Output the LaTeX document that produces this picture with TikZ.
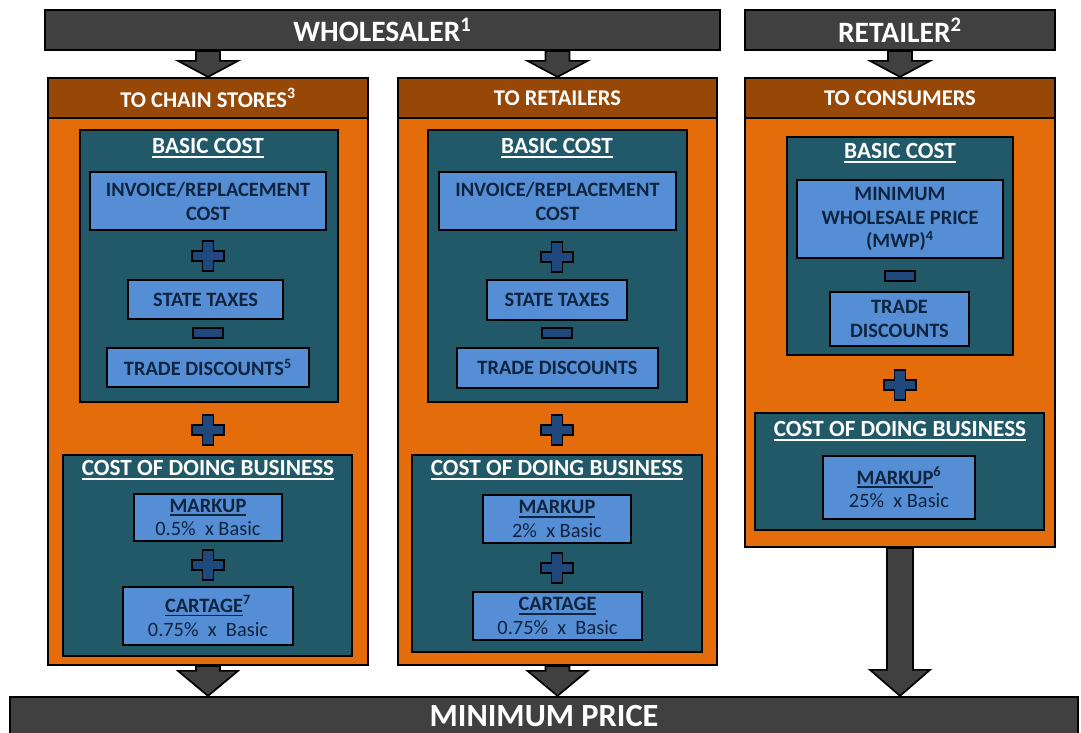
\documentclass[tikz,border=0pt]{standalone}
\usepackage{fontspec}
\setmainfont{Carlito}
\usetikzlibrary{calc}
\definecolor{barGray}{HTML}{404040}
\definecolor{hdrBrown}{HTML}{974806}
\definecolor{bodyOrange}{HTML}{E46C0A}
\definecolor{costTeal}{HTML}{215968}
\definecolor{itemBlue}{HTML}{558ED5}
\definecolor{itemText}{HTML}{0F243E}
\definecolor{signBlue}{HTML}{1F497D}

% thick underline for the titles
\newcommand{\ulin}[1]{\vtop{\hbox{#1}\kern1.6pt\hrule height 1.1pt}}

% block arrow: source, tip, shaft half width, head length
\newcommand{\blockarrow}[4]{%
  \filldraw[blockarr]
    ($(#2 |- #1)+(-#3,0)$) -- ($(#2)+(-#3,-#4)$) -- ($(#2)+(-30,-#4)$) -- (#2)
    -- ($(#2)+(30,-#4)$) -- ($(#2)+(#3,-#4)$) -- ($(#2 |- #1)+(#3,0)$) -- cycle;
}

\tikzset{
  sz/.style 2 args={minimum width=#1*0.025cm, minimum height=#2*0.025cm},
  bar/.style={draw=black, fill=barGray, line width=1.6pt, inner sep=0pt,
    text=white, font=\fontsize{21}{24}\selectfont\bfseries},
  hdr/.style={draw=black, fill=hdrBrown, line width=1.6pt, inner sep=0pt,
    text=white, font=\fontsize{16}{19}\selectfont\bfseries},
  body/.style={draw=black, fill=bodyOrange, line width=1.6pt, inner sep=0pt},
  grp/.style={draw=black, fill=costTeal, line width=1.6pt, inner sep=0pt},
  item/.style={draw=black, fill=itemBlue, line width=1.6pt, inner sep=0pt,
    text=itemText, align=center, font=\fontsize{14.5}{17}\selectfont\bfseries},
  ttl/.style={inner sep=0pt, text=white, font=\fontsize{16.5}{19}\selectfont\bfseries},
  blockarr/.style={fill=barGray, draw=black, line width=1.2pt, line join=miter},
  sign/.style={fill=signBlue, draw=black, line width=1.2pt},
}

\begin{document}
\begin{tikzpicture}[x=0.025cm, y=-0.025cm]

  \useasboundingbox (0,0) rectangle (1081,732);
  \fill[white] (0,0) rectangle (1081,732);

  % Top bars
  \node[bar, sz={675}{40}] (wsbar) at (382.5,30) {WHOLESALER\textsuperscript{1}};
  \node[bar, sz={310}{40}] (rtbar) at (900,30) {RETAILER\textsuperscript{2}};

  % Bottom bar
  \node[bar, sz={1068}{38}, font=\fontsize{23}{26}\selectfont\bfseries] (mp) at (544,716) {MINIMUM PRICE};
  \fill[barGray] ([xshift=0.8pt]mp.south west) rectangle ([xshift=-0.8pt,yshift=-20pt]mp.south east);
  \draw[line width=1.6pt] (mp.south west) -- ++(0,-20pt) (mp.south east) -- ++(0,-20pt);

  % Column bodies
  \node[body, sz={320}{547}] (body1) at (208,391.5) {};
  \node[body, sz={319}{547}] (body2) at (557.5,391.5) {};
  \node[body, sz={310}{429}] (body3) at (900,332.5) {};

  % Column headers
  \node[hdr, sz={320}{40}] (h1) at (208,98) {TO CHAIN STORES\textsuperscript{3}};
  \node[hdr, sz={319}{40}] (h2) at (557.5,98) {TO RETAILERS};
  \node[hdr, sz={310}{40}] (h3) at (900,98) {TO CONSUMERS};

  % Basic cost groups
  \node[grp, sz={258}{272}] (bc1) at (209,266) {};
  \node[grp, sz={259}{272}] (bc2) at (557.5,266) {};
  \node[grp, sz={226}{218}] (bc3) at (900,246) {};
  \node[ttl] (bct1) at (208,148) {\ulin{BASIC COST}};
  \node[ttl] (bct2) at (557,148) {\ulin{BASIC COST}};
  \node[ttl] (bct3) at (900,153) {\ulin{BASIC COST}};

  \node[item, sz={236}{58}] (inv1) at (208,201) {INVOICE/REPLACEMENT\\COST};
  \node[item, sz={237}{58}] (inv2) at (557.5,201) {INVOICE/REPLACEMENT\\COST};
  \node[item, sz={206}{78}] (mwp3) at (900,219) {MINIMUM\\WHOLESALE PRICE\\(MWP)\textsuperscript{4}};
  \node[item, sz={155}{39}] (st1) at (205.5,299.5) {STATE TAXES};
  \node[item, sz={140}{40}] (st2) at (557,300) {STATE TAXES};
  \node[item, sz={202}{39}] (td1) at (208,367.5) {TRADE DISCOUNTS\textsuperscript{5}};
  \node[item, sz={201}{40}] (td2) at (557.5,368) {TRADE DISCOUNTS};
  \node[item, sz={139}{54}] (td3) at (899.5,319) {TRADE\\DISCOUNTS};

  % Cost of doing business groups
  \node[grp, sz={289}{201}] (cdb1) at (207.5,555.5) {};
  \node[grp, sz={290}{197}] (cdb2) at (557,553.5) {};
  \node[grp, sz={289}{117}] (cdb3) at (899.5,471.5) {};
  \node[ttl] (cdbt1) at (208,470) {\ulin{COST OF DOING BUSINESS}};
  \node[ttl] (cdbt2) at (557,470) {\ulin{COST OF DOING BUSINESS}};
  \node[ttl] (cdbt3) at (900,431) {\ulin{COST OF DOING BUSINESS}};

  \node[item, sz={148}{47}] (mk1) at (208,517.5) {\ulin{MARKUP}\\{\mdseries 0.5\%~ x Basic}};
  \node[item, sz={148}{48}] (mk2) at (557,519) {\ulin{MARKUP}\\{\mdseries 2\%~ x Basic}};
  \node[item, sz={152}{63}] (mk3) at (899,487.5) {\ulin{MARKUP}\textsuperscript{6}\\{\mdseries 25\%~ x Basic}};
  \node[item, sz={170}{58}] (ct1) at (208,616) {\ulin{CARTAGE}\textsuperscript{7}\\{\mdseries 0.75\%~ x~ Basic}};
  \node[item, sz={169}{48}] (ct2) at (557.5,616) {\ulin{CARTAGE}\\{\mdseries 0.75\%~ x~ Basic}};

  % Plus and minus signs
  \foreach \px/\py in {208/256, 208/430, 208/565, 557/257, 557/430, 557/568, 900/385} {
    \draw[sign, shift={(\px,\py)}] (-5.5,-15) -- (5.5,-15) -- (5.5,-5) -- (16,-5) -- (16,5)
      -- (5.5,5) -- (5.5,15) -- (-5.5,15) -- (-5.5,5) -- (-16,5) -- (-16,-5) -- (-5.5,-5) -- cycle;
  }
  \foreach \px/\py in {208/333, 557/333, 900/276} {
    \draw[sign, shift={(\px,\py)}] (-15,-5) rectangle (15,5);
  }

  % Arrows
  \blockarrow{wsbar.south}{h1.north}{12}{16}
  \blockarrow{wsbar.south}{h2.north}{12}{16}
  \blockarrow{rtbar.south}{h3.north}{12}{16}
  \coordinate (tip1) at (body1.south |- mp.north);
  \coordinate (tip2) at (body2.south |- mp.north);
  \coordinate (tip3) at (body3.south |- mp.north);
  \blockarrow{body1.south}{tip1}{12}{25}
  \blockarrow{body2.south}{tip2}{12}{25}
  \blockarrow{body3.south}{tip3}{13}{26}

\end{tikzpicture}
\end{document}
